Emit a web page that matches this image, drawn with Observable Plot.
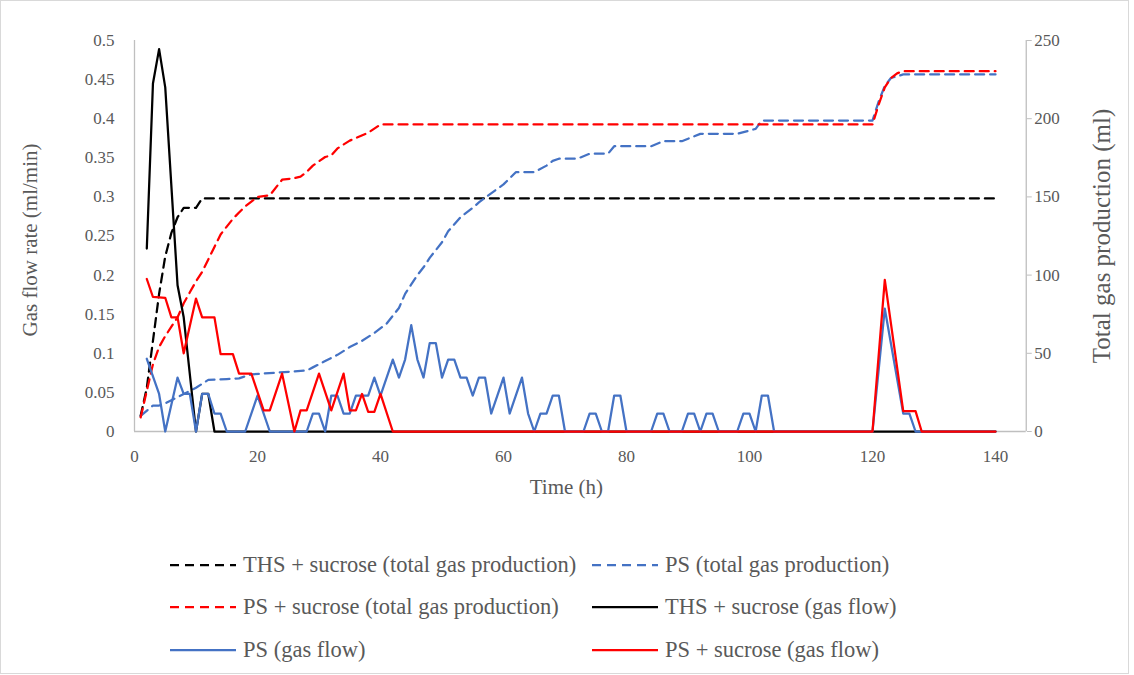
<!DOCTYPE html>
<html><head><meta charset="utf-8">
<script src="https://cdn.jsdelivr.net/npm/d3@7"></script>
<script src="https://cdn.jsdelivr.net/npm/@observablehq/plot@0.6"></script>
<style>
body{margin:0;background:#fff;}
#wrap{position:relative;width:1134px;height:675px;overflow:hidden;font-family:"Liberation Serif","Times New Roman",serif;color:#595959;}
#frame{position:absolute;left:0;top:0;width:1127px;height:672px;border:1px solid #d9d9d9;pointer-events:none;}
#chart{position:absolute;left:0;top:0;}
.leg{position:absolute;display:flex;align-items:center;font-size:22.5px;white-space:nowrap;height:26px;}
.leg svg{margin-right:7px;}
</style></head>
<body><div id="wrap"><div id="chart"></div><div id="legend"></div><div id="frame"></div></div>
<script>
// ---- data (time in h, flow in ml/min, totals in ml) ----
const xTicks = [0, 20, 40, 60, 80, 100, 120, 140];
const leftTicks = [0, 0.05, 0.1, 0.15, 0.2, 0.25, 0.3, 0.35, 0.4, 0.45, 0.5];
const rightTicks = [0, 50, 100, 150, 200, 250];

const thsTotalT = [1, 2, 3, 4, 5, 6, 7, 8, 10, 11, 140];
const thsTotalV = [10, 28, 58, 88, 112, 127, 137, 143, 143, 149, 149];

const psTotalT = [1, 3, 4, 5, 7, 9, 10, 12, 15, 17, 19, 28, 29, 31, 33, 35, 37, 39, 41, 43, 44, 45, 46, 47, 48, 49, 50, 51, 53, 55, 56, 57, 60, 62, 65, 67, 68, 69, 72, 74, 77, 78, 84, 86, 89, 92, 98, 101, 102, 120, 121, 122, 123, 125, 140];
const psTotalV = [10, 16.6, 16.6, 18, 22, 26, 28, 33, 33.5, 34, 36.5, 39, 41, 45, 49, 54, 58, 63, 69, 79, 88, 94, 100, 105, 111, 116, 121, 128, 137, 143, 146.5, 149.5, 158, 165.8, 165.8, 170, 173, 174.4, 174.4, 177.6, 177.6, 182.4, 182.4, 185.6, 185.6, 190.3, 190.3, 193.5, 198.8, 198.8, 211, 221, 226, 228.3, 228.3];

const psSucTotalT = [1, 2, 3, 4, 5, 6, 7, 8, 9, 10, 11, 12, 13, 14, 15, 16, 17, 18, 19, 20, 22, 24, 26, 27, 28, 29, 31, 32, 33, 35, 38, 40, 120, 121, 122, 123, 124, 125, 140];
const psSucTotalV = [9, 26, 43, 54, 61, 67, 73, 82, 89, 96, 102, 110, 118, 126, 131, 136, 140, 144, 147, 150, 151, 161, 162, 163, 166, 170, 175.5, 176.5, 181, 186, 191, 196.3, 196.3, 209, 220, 226, 229, 230.4, 230.4];

const thsFlowT = [2, 3, 4, 5, 7, 8, 10, 11, 12, 13, 140];
const thsFlowV = [0.234, 0.445, 0.489, 0.44, 0.187, 0.146, 0, 0.048, 0.048, 0, 0];

const psFlowT = [2, 4, 5, 7, 8, 9, 10, 11, 12, 13, 14, 15, 18, 20, 22, 28, 29, 30, 31, 32, 33, 34, 35, 36, 38, 39, 40, 42, 43, 44, 45, 46, 47, 48, 49, 50, 51, 52, 53, 54, 55, 56, 57, 58, 60, 61, 63, 64, 65, 66, 67, 68, 69, 70, 73, 74, 75, 76, 77, 78, 79, 80, 84, 85, 86, 87, 89, 90, 91, 92, 93, 94, 95, 98, 99, 100, 101, 102, 103, 104, 120, 122, 125, 126, 127, 140];
const psFlowV = [0.093, 0.048, 0, 0.069, 0.048, 0.048, 0, 0.048, 0.048, 0.023, 0.023, 0, 0, 0.046, 0, 0, 0.023, 0.023, 0, 0.046, 0.046, 0.023, 0.023, 0.046, 0.046, 0.069, 0.046, 0.092, 0.069, 0.092, 0.136, 0.092, 0.069, 0.113, 0.113, 0.069, 0.092, 0.092, 0.069, 0.069, 0.046, 0.069, 0.069, 0.023, 0.069, 0.023, 0.069, 0.023, 0, 0.023, 0.023, 0.046, 0.046, 0, 0, 0.023, 0.023, 0, 0, 0.046, 0.046, 0, 0, 0.023, 0.023, 0, 0, 0.023, 0.023, 0, 0.023, 0.023, 0, 0, 0.023, 0.023, 0, 0.046, 0.046, 0, 0, 0.157, 0.023, 0.023, 0, 0];

const psSucFlowT = [2, 3, 5, 6, 7, 8, 10, 11, 13, 14, 16, 17, 19, 21, 22, 24, 26, 27, 28, 30, 32, 34, 35, 36, 37, 38, 39, 40, 42, 120, 122, 125, 127, 128, 140];
const psSucFlowV = [0.195, 0.172, 0.171, 0.146, 0.146, 0.1, 0.17, 0.146, 0.146, 0.099, 0.099, 0.074, 0.074, 0.027, 0.027, 0.074, 0, 0.027, 0.027, 0.074, 0.027, 0.074, 0.027, 0.027, 0.048, 0.025, 0.025, 0.048, 0, 0, 0.194, 0.026, 0.026, 0, 0];

const seriesNames = ["THS + sucrose (total gas production)", "PS (total gas production)", "PS + sucrose (total gas production)", "THS + sucrose (gas flow)", "PS (gas flow)", "PS + sucrose (gas flow)"];
const seriesColors = ["#000000", "#4472C4", "#FF0000", "#000000", "#4472C4", "#FF0000"];
const seriesDashed = [true, true, true, false, false, false];

// ---- build ----
const K = 500; // ml per left-axis unit (250 ml <-> 0.5 ml/min)
const series = [
  {t: thsTotalT, v: thsTotalV, k: K},
  {t: psTotalT, v: psTotalV, k: K},
  {t: psSucTotalT, v: psSucTotalV, k: K},
  {t: thsFlowT, v: thsFlowV, k: 1},
  {t: psFlowT, v: psFlowV, k: 1},
  {t: psSucFlowT, v: psSucFlowV, k: 1}
].map((s, i) => ({
  data: s.t.map((x, j) => ({x, y: s.v[j] / s.k})),
  name: seriesNames[i], color: seriesColors[i], dashed: seriesDashed[i]
}));

const gray = "#bfbfbf";
const txt = "#595959";
const chart = Plot.plot({
  width: 1134, height: 520,
  marginLeft: 134, marginRight: 108.25, marginTop: 40, marginBottom: 89,
  style: {fontFamily: '"Liberation Serif","Times New Roman",serif', fontSize: "17px", color: txt, background: "transparent"},
  x: {domain: [0, 145]},
  y: {domain: [0, 0.5]},
  marks: [
    Plot.ruleY([0], {stroke: gray, strokeWidth: 1.3}),
    Plot.ruleX([0, 145], {stroke: gray, strokeWidth: 1.3}),
    Plot.axisX({ticks: xTicks, tickSize: 0, tickPadding: 18, label: null, fontSize: 17}),
    Plot.axisY({ticks: leftTicks, tickSize: 0, tickPadding: 20, label: null, fontSize: 17,
      tickFormat: d => String(+d.toFixed(2))}),
    Plot.axisY({anchor: "right", ticks: rightTicks.map(v => v / K), tickSize: 5, tickPadding: 3,
      stroke: gray, label: null, fontSize: 17, tickFormat: d => String(Math.round(d * K))}),
    Plot.text(["Time (h)"], {frameAnchor: "bottom", dx: -14, dy: 62, fontSize: 21, fill: txt, textAnchor: "middle"}),
    Plot.text(["Gas flow rate (ml/min)"], {frameAnchor: "left", dx: -104, dy: 4, rotate: -90, fontSize: 21, fill: txt, textAnchor: "middle"}),
    Plot.text(["Total gas production (ml)"], {frameAnchor: "right", dx: 76, dy: 0, rotate: -90, fontSize: 25, fill: txt, textAnchor: "middle"}),
    ...series.map(s => Plot.line(s.data, {x: "x", y: "y", stroke: s.color, strokeWidth: 2.25,
      strokeDasharray: s.dashed ? "9,6" : null, strokeLinejoin: "round"}))
  ]
});
document.getElementById("chart").appendChild(chart);

// ---- legend ----
const legPos = [[170, 565], [592, 565], [170, 607], [592, 607], [170, 650], [592, 650]];
const leg = document.getElementById("legend");
series.forEach((s, i) => {
  const d = document.createElement("div");
  d.className = "leg";
  d.style.left = legPos[i][0] + "px";
  d.style.top = (legPos[i][1] - 13) + "px";
  d.innerHTML = `<svg width="66" height="10"><line x1="0" y1="5" x2="66" y2="5" stroke="${s.color}" stroke-width="2.25" ${s.dashed ? 'stroke-dasharray="9,6"' : ''}/></svg><span>${s.name}</span>`;
  leg.appendChild(d);
});
</script>
</body></html>
